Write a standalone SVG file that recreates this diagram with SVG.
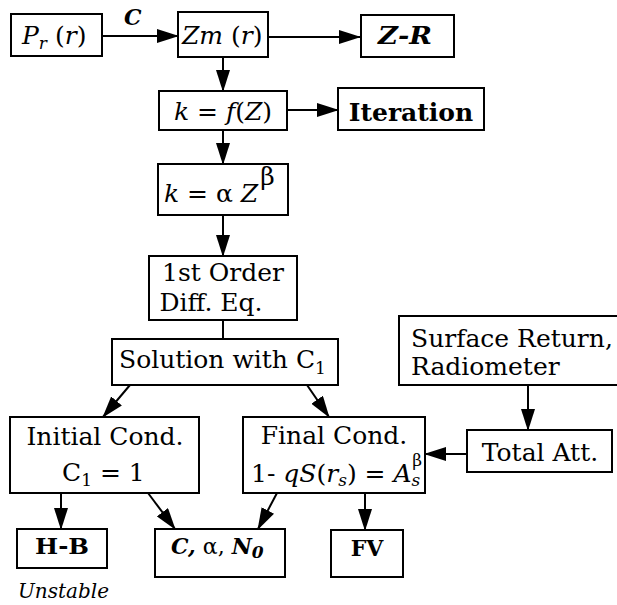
<svg xmlns="http://www.w3.org/2000/svg" width="617" height="605" viewBox="0 0 617 605">
<defs>
<marker id="ah" markerUnits="userSpaceOnUse" markerWidth="22" markerHeight="14" refX="21" refY="7" orient="auto" viewBox="0 0 22 14">
<path d="M0,0 L22,7 L0,14 z" fill="#000"/>
</marker>
<style>
rect{fill:#fff;stroke:#000;stroke-width:2}
text{font-family:"DejaVu Serif","Liberation Serif",serif;font-size:25px;fill:#000}
.b{font-weight:bold}
.i{font-style:italic}
.s{font-size:17px}
.m{font-size:22px}
.c line,.c path{stroke:#000;stroke-width:2;fill:none}
.a{marker-end:url(#ah)}
</style>
</defs>
<g class="c" id="connectors">
<line class="a" x1="102" y1="36" x2="178" y2="36"/>
<line class="a" x1="268" y1="37" x2="360" y2="37"/>
<line class="a" x1="223" y1="57" x2="223" y2="91"/>
<line class="a" x1="287" y1="110" x2="338" y2="110"/>
<line class="a" x1="223" y1="130" x2="223" y2="164"/>
<line class="a" x1="223" y1="215" x2="223" y2="256"/>
<line x1="223" y1="320" x2="223" y2="339"/>
<line class="a" x1="130" y1="385" x2="103" y2="417"/>
<line class="a" x1="307" y1="385" x2="329" y2="417"/>
<line class="a" x1="528" y1="385" x2="528" y2="430"/>
<line class="a" x1="467" y1="454" x2="425" y2="454"/>
<line class="a" x1="61" y1="493" x2="61" y2="529"/>
<line class="a" x1="148" y1="493" x2="175" y2="529"/>
<line class="a" x1="277" y1="493" x2="258" y2="529"/>
<line class="a" x1="365" y1="493" x2="365" y2="530"/>
<text x="124" y="25" class="i b m">C</text>
</g>
<g id="pr"><rect x="11" y="14" width="91" height="42"/><text x="22" y="44"><tspan class="i">P</tspan><tspan class="i s" dy="5">r</tspan><tspan dy="-5"> (</tspan><tspan class="i">r</tspan>)</text></g>
<g id="zm"><rect x="178" y="12" width="90" height="45"/><text x="182" y="44"><tspan class="i">Zm</tspan> (<tspan class="i">r</tspan>)</text></g>
<g id="zr"><rect x="361" y="15" width="93" height="42"/><text x="405" y="44" text-anchor="middle" class="b i" textLength="54" lengthAdjust="spacingAndGlyphs">Z-R</text></g>
<g id="kfz"><rect x="159" y="91" width="128" height="39"/><text x="223" y="120" text-anchor="middle"><tspan class="i">k</tspan> = <tspan class="i">f</tspan>(<tspan class="i">Z</tspan>)</text></g>
<g id="iter"><rect x="338" y="88" width="146" height="42"/><text x="411" y="121" text-anchor="middle" class="b">Iteration</text></g>
<g id="kaz"><rect x="158" y="164" width="130" height="51"/><text x="164" y="202"><tspan class="i">k</tspan> = α <tspan class="i">Z</tspan><tspan dy="-17" dx="2">β</tspan></text></g>
<g id="ode"><rect x="149" y="256" width="148" height="64"/><text x="223" y="281" text-anchor="middle">1st Order</text><text x="211" y="311" text-anchor="middle">Diff. Eq.</text></g>
<g id="sol"><rect x="112" y="339" width="226" height="46"/><text x="119" y="368">Solution with C<tspan class="s" dy="6">1</tspan></text></g>
<g id="init"><rect x="10" y="417" width="189" height="76"/><text x="105" y="445" text-anchor="middle">Initial Cond.</text><text x="62" y="481">C<tspan class="s" dy="5">1</tspan><tspan dy="-5"> = 1</tspan></text></g>
<g id="final"><rect x="243" y="417" width="182" height="76"/><text x="334" y="444" text-anchor="middle">Final Cond.</text><text x="251" y="482">1- <tspan class="i">qS</tspan>(<tspan class="i">r</tspan><tspan class="i s" dy="4">s</tspan><tspan dy="-4">) = </tspan><tspan class="i">A</tspan><tspan class="i s" dy="4">s</tspan><tspan class="s" dx="-8" dy="-20">β</tspan></text></g>
<g id="surf"><rect x="399" y="316" width="222" height="69"/><text x="411" y="347">Surface Return,</text><text x="411" y="375">Radiometer</text></g>
<g id="tatt"><rect x="467" y="430" width="145" height="42"/><text x="540" y="461" text-anchor="middle">Total  Att.</text></g>
<g id="hb"><rect x="17" y="529" width="90" height="39"/><text x="62" y="554" text-anchor="middle" class="b m" textLength="54" lengthAdjust="spacingAndGlyphs">H-B</text></g>
<g id="can"><rect x="155" y="529" width="130" height="48"/><text x="171" y="554" class="m"><tspan class="b i">C,</tspan> α, <tspan class="b i">N</tspan><tspan class="b i s" dy="4">0</tspan></text></g>
<g id="fv"><rect x="331" y="530" width="72" height="47"/><text x="367" y="556" text-anchor="middle" class="b m">FV</text></g>
<text x="18" y="598" class="i" style="font-size:20px">Unstable</text>
</svg>
